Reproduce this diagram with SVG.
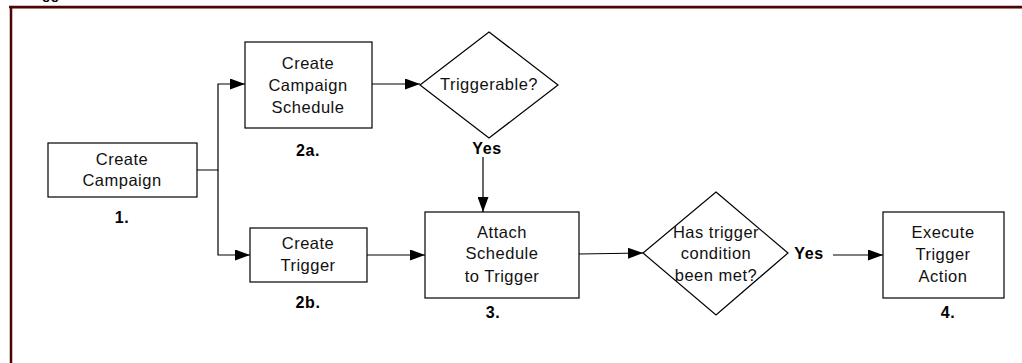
<svg xmlns="http://www.w3.org/2000/svg" width="1022" height="363" viewBox="0 0 1022 363">
<style>
.box{fill:#fff;stroke:#000;stroke-width:1.2}
.t{font-family:"Liberation Sans",Arial,sans-serif;font-size:16.5px;fill:#111;text-anchor:middle;dominant-baseline:central;letter-spacing:0.5px}
.b{font-family:"Liberation Sans",Arial,sans-serif;font-size:16px;font-weight:bold;fill:#000;text-anchor:middle;dominant-baseline:central;letter-spacing:0.6px}
.c{fill:none;stroke:#000;stroke-width:1.2}
</style>
<defs>
<marker id="ah" markerWidth="15" markerHeight="11" refX="15" refY="5.5" orient="auto" markerUnits="userSpaceOnUse">
<path d="M0,0 L15,5.5 L0,11 Z" fill="#000"/>
</marker>
</defs>
<rect width="1022" height="363" fill="#fff"/>
<text x="25" y="-1" font-family="Liberation Sans,Arial,sans-serif" font-size="14" font-weight="bold" fill="#000">Trigger</text>
<g id="frame">
<line x1="10" y1="8.5" x2="1022" y2="8.5" stroke="#c8a0a0" stroke-width="1"/>
<line x1="9" y1="7" x2="1022" y2="7" stroke="#4a0505" stroke-width="2.5"/>
<line x1="11" y1="6" x2="11" y2="363" stroke="#4a0505" stroke-width="2.5"/>
</g>
<g id="connectors">
<polyline class="c" points="197,170 218,170 218,84 245,84" marker-end="url(#ah)"/>
<polyline class="c" points="218,170 218,255 250,255" marker-end="url(#ah)"/>
<line class="c" x1="372" y1="84" x2="420" y2="84" marker-end="url(#ah)"/>
<line class="c" x1="483" y1="157" x2="483" y2="212" marker-end="url(#ah)"/>
<line class="c" x1="367" y1="255" x2="425" y2="255" marker-end="url(#ah)"/>
<line class="c" x1="579" y1="254" x2="643" y2="253" marker-end="url(#ah)"/>
<line class="c" x1="833" y1="255" x2="883" y2="255" marker-end="url(#ah)"/>
<text class="b" x="487" y="148">Yes</text>
<text class="b" x="809" y="253">Yes</text>
</g>
<g id="n1">
<rect class="box" x="48" y="143" width="149" height="54"/>
<text class="t" x="122" y="159">Create</text>
<text class="t" x="122" y="180">Campaign</text>
<text class="b" x="122" y="217">1.</text>
</g>
<g id="n2a">
<rect class="box" x="245" y="42" width="127" height="86"/>
<text class="t" x="308" y="63">Create</text>
<text class="t" x="308" y="85">Campaign</text>
<text class="t" x="308" y="107">Schedule</text>
<text class="b" x="308" y="150">2a.</text>
</g>
<g id="d1">
<polygon class="box" points="489,32 558,85 489,138 420,85"/>
<text class="t" x="489" y="84">Triggerable?</text>
</g>
<g id="n2b">
<rect class="box" x="250" y="228" width="117" height="54"/>
<text class="t" x="308" y="243">Create</text>
<text class="t" x="308" y="265">Trigger</text>
<text class="b" x="308" y="302">2b.</text>
</g>
<g id="n3">
<rect class="box" x="425" y="212" width="154" height="86"/>
<text class="t" x="502" y="232">Attach</text>
<text class="t" x="502" y="253">Schedule</text>
<text class="t" x="502" y="276">to Trigger</text>
<text class="b" x="493" y="312">3.</text>
</g>
<g id="d2">
<polygon class="box" points="716,192 788,253 716,315 643,253"/>
<text class="t" x="716" y="232">Has trigger</text>
<text class="t" x="716" y="253">condition</text>
<text class="t" x="716" y="275">been met?</text>
</g>
<g id="n4">
<rect class="box" x="883" y="212" width="121" height="86"/>
<text class="t" x="943" y="232">Execute</text>
<text class="t" x="943" y="254">Trigger</text>
<text class="t" x="943" y="276">Action</text>
<text class="b" x="948" y="312">4.</text>
</g>
</svg>
